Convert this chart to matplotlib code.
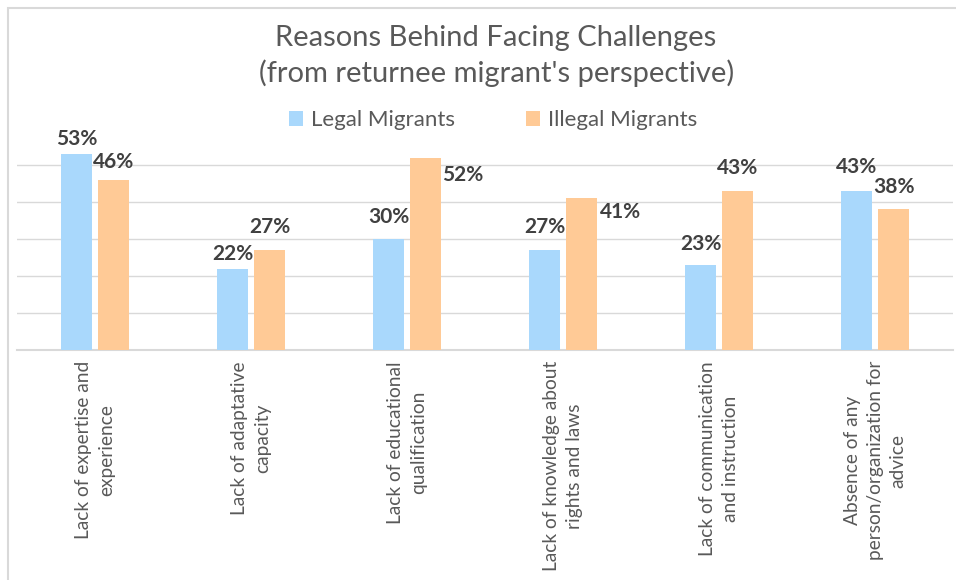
import matplotlib
matplotlib.use("Agg")
import matplotlib.pyplot as plt
from matplotlib.patches import Rectangle, Patch
import numpy as np

CATEGORIES = [
    "Lack of expertise and\nexperience",
    "Lack of adaptative\ncapacity",
    "Lack of educational\nqualification",
    "Lack of knowledge about\nrights and laws",
    "Lack of communication\nand instruction",
    "Absence of any\nperson/organization for\nadvice",
]
LEGAL = [53, 22, 30, 27, 23, 43]
ILLEGAL = [46, 27, 52, 41, 43, 38]
SERIES_NAMES = ["Legal Migrants", "Illegal Migrants"]

BLUE = "#A9D8FC"
ORANGE = "#FFCA96"
GRID = "#D9D9D9"
TEXT = "#595959"
LABEL = "#404040"

# label offsets from the bar top, in pixels (dx, dy)
LEGAL_OFFSETS = [(0, 15), (0, 15), (0, 22), (0, 23), (0, 21), (0, 24)]
ILLEGAL_OFFSETS = [(0, 18), (0, 23), (37, -17), (39, -14), (0, 23), (0, 22)]

W, H = 956, 580
plt.rcParams["font.family"] = ["Lato", "DejaVu Sans"]

fig = plt.figure(figsize=(W / 100, H / 100), dpi=100)
ax = fig.add_axes([17 / W, 1 - 350 / H, (953 - 17) / W, 214.6 / H])

x = np.arange(len(CATEGORIES))
width = 0.2
shift = 0.1186
bars_l = ax.bar(x - shift, LEGAL, width, color=BLUE, zorder=3)
bars_i = ax.bar(x + shift, ILLEGAL, width, color=ORANGE, zorder=3)

for bars, vals, offs in ((bars_l, LEGAL, LEGAL_OFFSETS), (bars_i, ILLEGAL, ILLEGAL_OFFSETS)):
    for b, v, (dx, dy) in zip(bars, vals, offs):
        ax.annotate(f"{v}%", xy=(b.get_x() + b.get_width() / 2, v),
                    xytext=(dx, dy), textcoords="offset pixels",
                    ha="center", va="center", fontsize=15,
                    fontweight="bold", color=LABEL, annotation_clip=False)

ax.set_xlim(-0.5, 5.5)
ax.set_ylim(0, 58)
ax.set_yticks([10, 20, 30, 40, 50])
ax.set_yticklabels([])
ax.tick_params(axis="y", length=0)
ax.grid(axis="y", color=GRID, linewidth=1, zorder=0)
for side in ("top", "right", "left"):
    ax.spines[side].set_visible(False)
ax.spines["bottom"].set_color(GRID)
ax.spines["bottom"].set_linewidth(1.5)

ax.set_xticks(x)
ax.set_xticklabels(CATEGORIES, rotation=90, ha="center", va="top",
                   multialignment="center", linespacing=1.4,
                   fontsize=13.8, color=TEXT)
ax.tick_params(axis="x", length=0, pad=8)

fig.text(496 / W, 1 - 38 / H, "Reasons Behind Facing Challenges",
         ha="center", va="center", fontsize=21, color=TEXT)
fig.text(497 / W, 1 - 73 / H, "(from returnee migrant's perspective)",
         ha="center", va="center", fontsize=21, color=TEXT)

handles = [Patch(facecolor=BLUE), Patch(facecolor=ORANGE)]
fig.legend(handles, SERIES_NAMES, loc="center", bbox_to_anchor=(493 / W, 1 - 120 / H),
           ncol=2, frameon=False, fontsize=16, labelcolor=TEXT,
           handlelength=0.65, handleheight=0.65, handletextpad=0.35, columnspacing=3.2)

fig.patches.append(Rectangle((8 / W, -0.5), 2, 1.5 - 8 / H, transform=fig.transFigure,
                             fill=False, edgecolor=GRID, linewidth=1.5))

fig.savefig("out.png", dpi=100)
